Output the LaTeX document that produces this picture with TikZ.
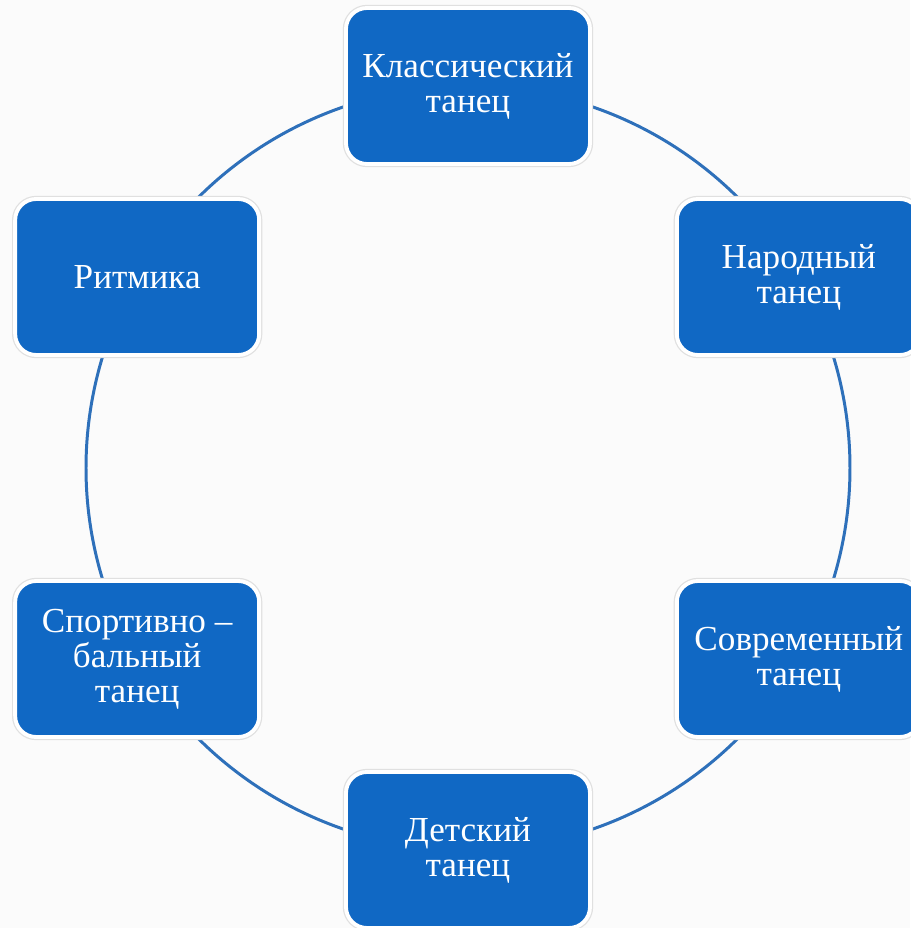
\documentclass[tikz,border=0pt]{standalone}
\usepackage{fontspec}
\setmainfont{Liberation Serif}
\usetikzlibrary{positioning,calc}
\definecolor{danceblue}{RGB}{16,104,196}
\definecolor{ringblue}{RGB}{46,112,186}
\definecolor{pagegray}{RGB}{251,251,251}

\begin{document}
\begin{tikzpicture}[
	dancebox/.style={draw=white, line width=2.2pt, fill=danceblue, rounded corners=0.42cm,
		minimum width=4.88cm, minimum height=3.12cm, align=center, text=white,
		font=\fontsize{20}{20}\selectfont,
		preaction={draw=black!12, line width=3.6pt}},
	ring/.style={ringblue, line width=1.7pt}
	]
				% page
				\fill[pagegray] (-9.36,9.36) rectangle (8.84,-9.2);
				\useasboundingbox (-9.36,9.36) rectangle (8.84,-9.2);
				
				% Points of the ring
				\foreach \i/\ang in {1/90, 2/30, 3/-30, 4/-90, 5/-150, 6/150}
					\coordinate (ring\i) at (\ang:7.64);
				
				% Ring arcs
				\foreach \i/\ang in {1/90, 2/30, 3/-30, 4/-90, 5/-150, 6/150}
					\draw[ring] (ring\i) arc[start angle=\ang, delta angle=-60, radius=7.64];
				
				% Dance styles round the ring
				\node[dancebox] (classic) at (ring1) {Классический\\танец};
				\node[dancebox] (folk) at (ring2) {Народный\\танец};
				\node[dancebox] (modern) at (ring3) {Современный\\танец};
				\node[dancebox] (kids) at (ring4) {Детский\\танец};
				\node[dancebox] (ballroom) at (ring5) {Спортивно –\\бальный\\танец};
				\node[dancebox] (rhythm) at (ring6) {Ритмика};
			\end{tikzpicture}
\end{document}
